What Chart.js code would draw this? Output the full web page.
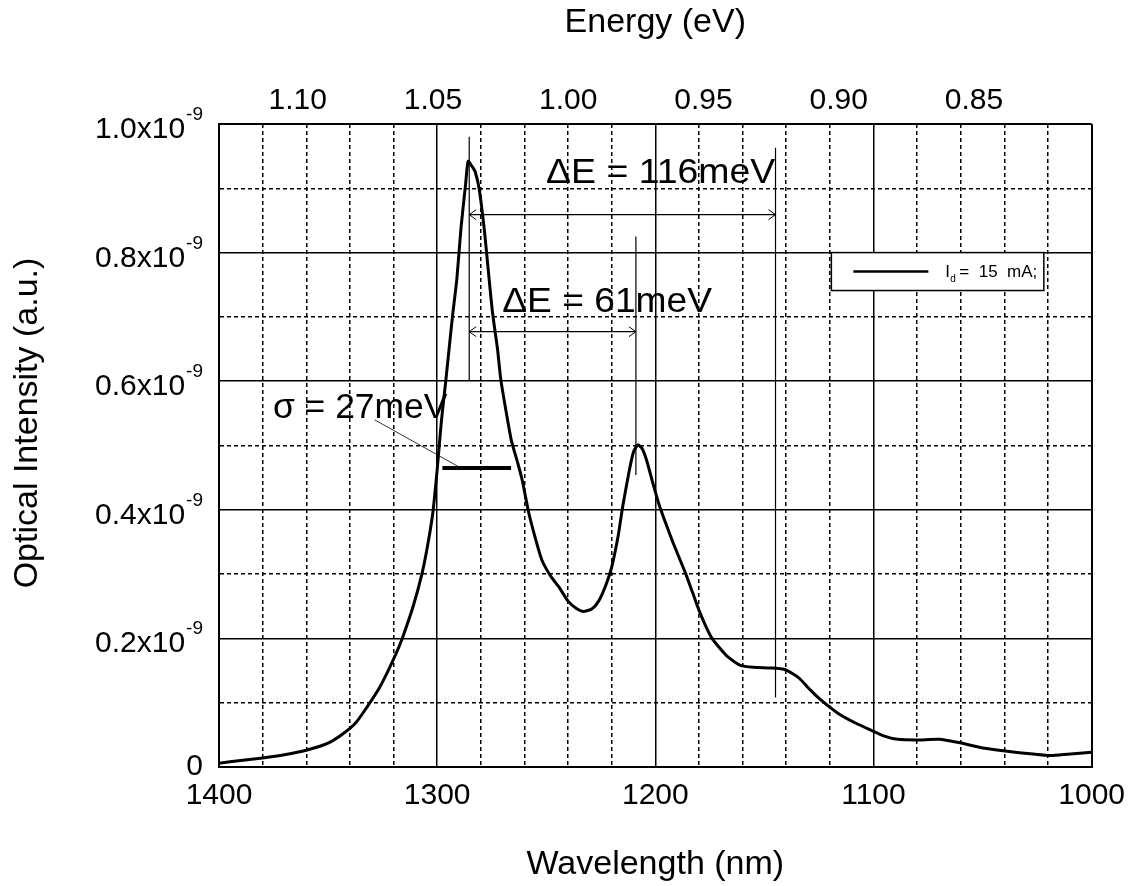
<!DOCTYPE html>
<html>
<head>
<meta charset="utf-8">
<title>Optical intensity spectrum</title>
<script src="https://cdn.jsdelivr.net/npm/chart.js@4.4.1/dist/chart.umd.min.js"></script>
<style>
  html, body { margin: 0; padding: 0; background: #fff; }
  #wrap { width: 1136px; height: 886px; }
</style>
</head>
<body>
<div id="wrap"><canvas id="spectrum"></canvas></div>
<script>
/* Electroluminescence spectrum, Id = 15 mA — wavelength axis reversed, energy on top */
const FONT = '"Liberation Sans", Arial, Helvetica, sans-serif';

// wavelength (nm) and optical intensity (units of 1e-9 a.u.)
const wavelength = [
  1400, 1390, 1380, 1370, 1360, 1350, 1343, 1337, 1332, 1327, 1323, 1319, 1316, 1311,
  1307, 1304.5, 1302, 1300, 1298, 1296, 1293, 1291, 1289, 1287, 1285.8, 1284, 1282.5,
  1280.7, 1278.4, 1276.5, 1274.6, 1272.3, 1270.8, 1268, 1266, 1263, 1261, 1258, 1255,
  1252, 1248, 1244, 1240, 1236, 1233, 1229, 1226, 1223, 1220, 1217, 1215, 1212, 1210,
  1208, 1206, 1204, 1201, 1198, 1195, 1192, 1189, 1186, 1183, 1180, 1177, 1174, 1170,
  1167, 1161, 1155, 1147, 1141, 1137, 1134, 1129, 1124, 1116, 1108, 1101, 1095, 1089,
  1080, 1070, 1061, 1049, 1035, 1019, 1011, 1000,
];
const intensity = [
  0.006, 0.010, 0.014, 0.019, 0.026, 0.037, 0.052, 0.070, 0.094, 0.120, 0.146, 0.175, 0.200, 0.250,
  0.300, 0.342, 0.395, 0.462, 0.540, 0.602, 0.700, 0.758, 0.841, 0.905, 0.942, 0.934, 0.925,
  0.898, 0.836, 0.770, 0.706, 0.649, 0.602, 0.545, 0.508, 0.472, 0.446, 0.395, 0.356,
  0.322, 0.297, 0.279, 0.258, 0.246, 0.242, 0.246, 0.258, 0.280, 0.311, 0.360, 0.404, 0.460, 0.490,
  0.501, 0.495, 0.477, 0.440, 0.405, 0.377, 0.350, 0.325, 0.300, 0.272, 0.244, 0.220, 0.200, 0.183,
  0.172, 0.158, 0.155, 0.154, 0.152, 0.145, 0.138, 0.120, 0.104, 0.083, 0.068, 0.057, 0.048, 0.043,
  0.042, 0.043, 0.038, 0.029, 0.023, 0.018, 0.020, 0.023,
];

const energyTicks = [1.10, 1.05, 1.00, 0.95, 0.90, 0.85];   // top axis labels (eV)
const intensityTicks = [0, 0.2, 0.4, 0.6, 0.8, 1.0];          // labelled as n x10^-9

// annotation geometry in data units (wavelength nm, intensity 1e-9)
const markerLines = [[1285.3, 0.980, 0.602], [1144.9, 0.963, 0.108], [1208.9, 0.825, 0.454]];
const arrows = [[1285.3, 1144.9, 0.859], [1285.3, 1208.9, 0.677]];
// text, start wavelength, end wavelength, baseline intensity
const notes = [
  ["\u0394E = 116meV", 1250.1, 1145.0, 0.909],
  ["\u0394E = 61meV", 1270.2, 1174.0, 0.708],
  ["\u03C3 = 27meV", 1375.3, 1295.3, 0.543],
];
const sigmaLeader = [1328.7, 0.540, 1290.7, 0.468];
const sigmaBar = [1297.6, 1266.1, 0.465];
const legendBox = [1119.3, 1021.9, 0.800, 0.741];

const isMajorX = (v) => v % 100 === 0;
const isMajorY = (v) => Math.round(v * 10) % 2 === 0;

const notesPlugin = {
  id: "spectrumNotes",
  afterDatasetsDraw(chart) {
    const { ctx, scales: { x, y } } = chart;
    const px = (v) => x.getPixelForValue(v);
    const py = (v) => y.getPixelForValue(v);
    const seg = (x0, y0, x1, y1) => { ctx.beginPath(); ctx.moveTo(x0, y0); ctx.lineTo(x1, y1); ctx.stroke(); };
    ctx.save();
    ctx.strokeStyle = "#000";
    ctx.fillStyle = "#000";

    ctx.lineWidth = 1.2;
    markerLines.forEach(([w, a, b]) => seg(px(w), py(a), px(w), py(b)));
    arrows.forEach(([w0, w1, v]) => {
      const x0 = px(w0), x1 = px(w1), yy = py(v);
      seg(x0, yy, x1, yy);
      ctx.lineWidth = 1;
      seg(x0 + 7, yy - 5, x0, yy); seg(x0, yy, x0 + 7, yy + 5);
      seg(x1 - 7, yy - 5, x1, yy); seg(x1, yy, x1 - 7, yy + 5);
      ctx.lineWidth = 1.2;
    });

    ctx.lineWidth = 0.8;
    seg(px(sigmaLeader[0]), py(sigmaLeader[1]), px(sigmaLeader[2]), py(sigmaLeader[3]));
    ctx.lineWidth = 4;
    seg(px(sigmaBar[0]), py(sigmaBar[2]), px(sigmaBar[1]), py(sigmaBar[2]));

    // annotation labels, stretched to the span they cover in the original
    ctx.font = `35px ${FONT}`;
    ctx.textAlign = "left";
    ctx.textBaseline = "alphabetic";
    notes.forEach(([t, w0, w1, v]) => {
      const x0 = px(w0);
      const sx = (px(w1) - x0) / ctx.measureText(t).width;
      ctx.save();
      ctx.translate(x0, py(v));
      ctx.scale(sx, 1);
      ctx.fillText(t, 0, 0);
      ctx.restore();
    });

    // legend box
    const [l0, l1, t0, t1] = legendBox;
    const bx = px(l0), by = py(t0), bw = px(l1) - bx, bh = py(t1) - by;
    ctx.fillStyle = "#fff";
    ctx.fillRect(bx, by, bw, bh);
    ctx.lineWidth = 1.5;
    ctx.strokeRect(bx, by, bw, bh);
    ctx.fillStyle = "#000";
    ctx.lineWidth = 2.5;
    seg(bx + 22, by + 19, bx + 97, by + 19);
    ctx.font = `17px ${FONT}`;
    ctx.fillText("I", bx + 114, by + 24);
    ctx.font = `10px ${FONT}`;
    ctx.fillText("d", bx + 119, by + 29);
    ctx.font = `17px ${FONT}`;
    ctx.fillText("=  15  mA;", bx + 128, by + 24);

    // y tick labels with superscript exponent
    const right = 203;
    intensityTicks.forEach((v) => {
      const yy = py(v);
      if (v === 0) {
        ctx.font = `30px ${FONT}`;
        ctx.textAlign = "right";
        ctx.textBaseline = "middle";
        ctx.fillText("0", right, yy);
        return;
      }
      ctx.textBaseline = "alphabetic";
      ctx.font = `19px ${FONT}`;
      const supW = ctx.measureText("-9").width;
      ctx.textAlign = "left";
      ctx.fillText("-9", right - supW, yy - 4);
      ctx.font = `30px ${FONT}`;
      ctx.textAlign = "right";
      ctx.fillText(v.toFixed(1) + "x10", right - supW - 1, yy + 14);
    });

    // y axis title
    ctx.translate(28, 423);
    ctx.rotate(-Math.PI / 2);
    ctx.font = `34px ${FONT}`;
    ctx.textAlign = "center";
    ctx.textBaseline = "middle";
    ctx.fillText("Optical Intensity (a.u.)", 0, 0);
    ctx.restore();
  },
};

new Chart(document.getElementById("spectrum"), {
  type: "line",
  data: {
    datasets: [{
      label: "Id = 15 mA",
      data: wavelength.map((w, i) => ({ x: w, y: intensity[i] })),
      borderColor: "#000",
      borderWidth: 3,
      pointRadius: 0,
      tension: 0.2,
      fill: false,
      xAxisID: "x",
      yAxisID: "y",
    }],
  },
  options: {
    responsive: true,
    maintainAspectRatio: false,
    animation: false,
    layout: { padding: { left: 0, top: 0, right: 40, bottom: 0 } },
    plugins: { legend: { display: false }, tooltip: { enabled: false } },
    scales: {
      x: {
        type: "linear", position: "bottom", min: 1000, max: 1400, reverse: true,
        afterFit: (s) => { s.height = 119; },
        ticks: {
          stepSize: 20, autoSkip: false, maxRotation: 0, padding: 11, color: "#000",
          font: { family: FONT, size: 30 },
          callback: (v) => (isMajorX(v) ? String(v) : ""),
        },
        grid: {
          color: "#000", drawTicks: false,
          lineWidth: (c) => (c.tick && (c.tick.value === 1000 || c.tick.value === 1400) ? 2 : 1.5),
        },
        border: { display: true, color: "#000", width: 2, dash: (c) => (c.tick && !isMajorX(c.tick.value) ? [4, 3] : []) },
        title: { display: true, text: "Wavelength (nm)", color: "#000", font: { family: FONT, size: 34 }, padding: { top: 0, bottom: 1 } },
      },
      x2: {
        type: "linear", position: "top", min: 0.8065, max: 1.1291, reverse: true,
        afterFit: (s) => { s.height = 124; },
        afterBuildTicks: (s) => { s.ticks = energyTicks.map((v) => ({ value: v })); },
        ticks: { autoSkip: false, maxRotation: 0, padding: 5, color: "#000", font: { family: FONT, size: 30 }, callback: (v) => v.toFixed(2) },
        grid: { drawOnChartArea: false, drawTicks: false },
        border: { display: false },
        title: { display: true, text: "Energy (eV)", color: "#000", font: { family: FONT, size: 34 }, padding: { top: 2, bottom: 0 } },
      },
      y: {
        min: 0, max: 1.0,
        afterFit: (s) => { s.width = 219; },
        ticks: { stepSize: 0.1, display: false },
        grid: {
          color: "#000", drawTicks: false,
          lineWidth: (c) => (c.tick && (c.tick.value === 0 || c.tick.value === 1) ? 2 : 1.5),
        },
        border: { display: true, color: "#000", width: 2, dash: (c) => (c.tick && !isMajorY(c.tick.value) ? [4, 3] : []) },
      },
    },
  },
  plugins: [notesPlugin],
});
</script>
</body>
</html>
